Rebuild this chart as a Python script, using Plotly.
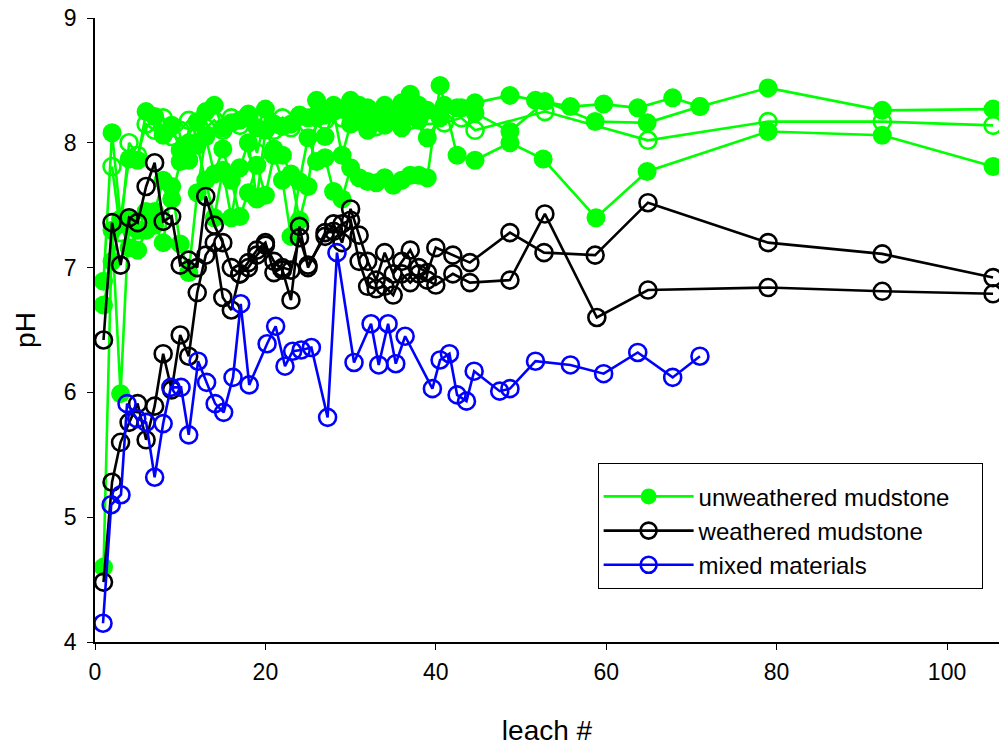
import plotly.graph_objects as go

# ---------------- data ----------------
g1_x = [1, 2, 3, 4, 5, 6, 7, 8, 9, 10, 11, 12, 13, 14, 15, 16, 17, 18, 19, 20, 21, 22, 23, 24, 25, 26, 27, 28, 29, 30,
        31, 32, 33, 34, 35, 36, 37, 38, 39, 41, 43, 44.6, 48.7, 51.7, 55.8, 59.7, 63.7, 67.8, 71, 79, 92.4, 105.4]
g1_y = [6.89, 8.08, 7.39, 7.87, 7.86, 8.25, 8.21, 8.06, 8.14, 7.94, 7.86, 8.17, 8.25, 8.30, 8.12, 8.16, 8.18, 8.23, 8.12, 8.27,
        8.15, 8.13, 8.15, 8.21, 8.20, 8.34, 8.22, 8.30, 8.27, 8.34, 8.30, 8.28, 8.22, 8.30, 8.26, 8.32, 8.39, 8.30, 8.26,
        8.30, 8.28, 8.32, 8.38, 8.34, 8.29, 8.31, 8.28, 8.36, 8.29, 8.44, 8.26, 8.27]

g2_x = [1, 2, 3, 4, 5, 6, 7, 8, 9, 10, 11, 12, 13, 14, 15, 16, 17, 18, 19, 20, 21, 22, 23, 24, 25, 26, 27, 28, 29, 30,
        31, 32, 33, 34, 35, 36, 37, 38, 39, 40.5, 42.5, 44.6, 48.7, 52.6, 58.8, 64.8, 79, 92.4, 105.4]
g2_y = [6.70, 7.05, 7.35, 7.16, 7.30, 7.45, 7.34, 7.20, 7.65, 7.19, 6.96, 7.60, 8.05, 7.75, 7.95, 7.70, 7.41, 7.60, 7.82,
        7.58, 7.90, 7.70, 7.25, 7.69, 8.04, 7.85, 7.88, 7.61, 7.55, 7.80, 7.72, 7.69, 7.68, 7.72, 7.66, 7.70, 7.74, 7.74,
        7.72, 8.46, 7.90, 7.86, 8.00, 7.87, 7.40, 7.77, 8.09, 8.06, 7.81]

g3_x = [1, 2, 3, 4, 5, 6, 7, 8, 9, 10, 11, 12, 13, 14, 15, 16, 17, 18, 19, 20, 21, 22, 23, 24, 25, 26, 27, 28, 29, 30,
        31, 32, 33, 34, 35, 36, 37, 38, 39, 40.5, 42.5, 44.6, 48.7, 52.8, 58.7, 64.8, 71]
g3_y = [4.60, 7.30, 5.99, 7.40, 7.14, 7.30, 7.45, 7.70, 7.55, 7.85, 8.00, 7.98, 7.70, 7.40, 7.78, 7.40, 7.80, 8.00, 7.55,
        8.10, 7.95, 7.90, 7.75, 7.38, 7.65, 8.20, 8.05, 8.25, 7.90, 8.15, 8.22, 8.10, 8.18, 8.14, 8.20, 8.12, 8.22, 8.18,
        8.04, 8.20, 8.28, 8.24, 8.09, 8.33, 8.17, 8.16, 8.29]

go_x = [2, 3, 4, 5, 6, 7, 8, 9, 10, 11, 12, 13, 14, 15, 16, 17, 18, 19, 20, 21, 22, 23, 24, 25, 26, 27, 28, 29, 30,
        31, 32, 33, 34, 35, 36, 37, 38, 39, 41, 43, 44.6, 52.8, 64.9, 79, 92.4, 105.4]
go_y = [7.81, 7.28, 8.00, 7.90, 8.15, 8.10, 8.20, 8.05, 8.10, 8.18, 8.05, 8.12, 8.18, 8.10, 8.20, 8.14, 8.22, 7.92, 8.20,
        8.10, 8.20, 8.12, 8.22, 8.15, 8.22, 8.18, 8.28, 8.20, 8.25, 8.18, 8.20, 8.13, 8.22, 8.18, 8.25, 8.18, 8.22, 8.15,
        8.16, 8.20, 8.10, 8.25, 8.02, 8.17, 8.17, 8.14]

b1_x = [1, 2, 3, 4, 5, 6, 7, 8, 9, 10, 11, 12, 13, 14, 15, 16, 17, 18, 19, 20, 21, 22, 23, 24, 25, 27, 28, 29, 30,
        31, 32, 33, 34, 35, 36, 37, 38, 39, 40, 42, 44, 48.7, 52.7, 58.7, 64.9, 79, 92.4, 105.4]
b1_y = [6.42, 7.36, 7.02, 7.40, 7.36, 7.65, 7.84, 7.37, 7.41, 7.02, 7.06, 7.00, 7.57, 7.34, 7.20, 7.00, 6.95, 7.04, 7.14,
        7.20, 6.96, 7.00, 6.98, 7.24, 7.02, 7.25, 7.35, 7.20, 7.47, 7.26, 7.05, 6.90, 7.12, 6.95, 7.05, 7.14, 7.00, 6.96,
        7.16, 7.10, 7.04, 7.28, 7.12, 7.10, 7.52, 7.20, 7.11, 6.92]

b2_x = [1, 2, 3, 4, 5, 6, 7, 8, 9, 10, 11, 12, 13, 14, 15, 16, 17, 18, 19, 20, 21, 22, 23, 24, 25, 27, 28, 29, 30,
        31, 32, 33, 34, 35, 36, 37, 38, 39, 40, 42, 44, 48.7, 52.8, 58.9, 64.9, 79, 92.4, 105.4]
b2_y = [4.48, 5.28, 5.60, 5.76, 5.91, 5.62, 5.89, 6.31, 6.02, 6.46, 6.29, 6.80, 7.10, 7.20, 6.76, 6.66, 6.95, 7.00, 7.10,
        7.18, 7.05, 6.98, 6.74, 7.33, 7.00, 7.28, 7.29, 7.35, 7.38, 7.05, 6.85, 6.83, 6.85, 6.78, 6.95, 6.88, 6.95, 6.90,
        6.86, 6.95, 6.88, 6.90, 7.43, 6.60, 6.82, 6.84, 6.81, 6.79]

m_x = [0.94, 1.9, 3.05, 3.76, 4.9, 6.0, 7.0, 8.0, 8.9, 10.1, 11.0, 12.1, 13.1, 14.1, 15.1, 16.2, 17.1, 18.1, 20.2, 21.2,
       22.3, 23.2, 24.2, 25.4, 27.3, 28.4, 30.4, 32.4, 33.3, 34.4, 35.3, 36.4, 39.6, 40.5, 41.6, 42.5, 43.6, 44.5,
       47.5, 48.7, 51.7, 55.8, 59.7, 63.7, 67.8, 71.0]
m_y = [4.15, 5.10, 5.18, 5.91, 5.79, 5.76, 5.32, 5.75, 6.04, 6.04, 5.66, 6.25, 6.08, 5.91, 5.84, 6.12, 6.71, 6.06, 6.39,
       6.53, 6.21, 6.33, 6.34, 6.36, 5.80, 7.12, 6.24, 6.55, 6.22, 6.55, 6.23, 6.45, 6.03, 6.26, 6.31, 5.98, 5.93, 6.17,
       6.01, 6.03, 6.25, 6.22, 6.15, 6.32, 6.12, 6.29]

legend_names = ["unweathered mudstone", "weathered mudstone", "mixed materials"]

GREEN = "#00ff00"
BLACK = "#000000"
BLUE = "#0000ff"

fig = go.Figure()


def add(x, y, color, filled, name, show):
    if filled:
        marker = dict(symbol="circle", size=19, color=color, line=dict(width=0))
    else:
        marker = dict(symbol="circle-open", size=17, color=color, line=dict(width=2.6))
    fig.add_trace(go.Scatter(x=x, y=y, mode="lines+markers", name=name, showlegend=show,
                             line=dict(color=color, width=2.6), marker=marker))


add(g3_x, g3_y, GREEN, True, legend_names[0], False)
add(go_x, go_y, GREEN, False, legend_names[0], False)
add(g2_x, g2_y, GREEN, True, legend_names[0], False)
add(g1_x, g1_y, GREEN, True, legend_names[0] + "\u00a0\u00a0\u00a0\u00a0", True)
add(b1_x, b1_y, BLACK, False, legend_names[1], True)
add(b2_x, b2_y, BLACK, False, legend_names[1], False)
add(m_x, m_y, BLUE, False, legend_names[2], True)

FONT = "Arial, 'Liberation Sans', sans-serif"

fig.update_layout(
    width=999, height=748,
    margin=dict(l=95, r=0, t=18, b=106, pad=0),
    paper_bgcolor="white", plot_bgcolor="white",
    font=dict(family=FONT, size=23, color="black"),
    showlegend=True,
    legend=dict(x=0.556, y=0.287, xanchor="left", yanchor="top",
                bordercolor="black", borderwidth=1, bgcolor="white",
                font=dict(family=FONT, size=24, color="black"),
                title=dict(text=" ", font=dict(size=8)),
                itemwidth=90, traceorder="normal"),
    xaxis=dict(range=[0, 106.1], dtick=20, tick0=0, showgrid=False, zeroline=False,
               showline=True, linecolor="black", linewidth=1.5, ticks="outside", ticklen=6,
               tickcolor="black", tickfont=dict(size=23), ticklabelstandoff=3,
               title=dict(text="leach #", font=dict(size=28), standoff=36)),
    yaxis=dict(range=[4, 9], dtick=1, tick0=4, showgrid=False, zeroline=False,
               showline=True, linecolor="black", linewidth=1.5, ticks="outside", ticklen=6,
               tickcolor="black", tickfont=dict(size=23), ticklabelstandoff=6,
               title=dict(text="pH", font=dict(size=28), standoff=20)),
)

fig.write_html("out.html")
